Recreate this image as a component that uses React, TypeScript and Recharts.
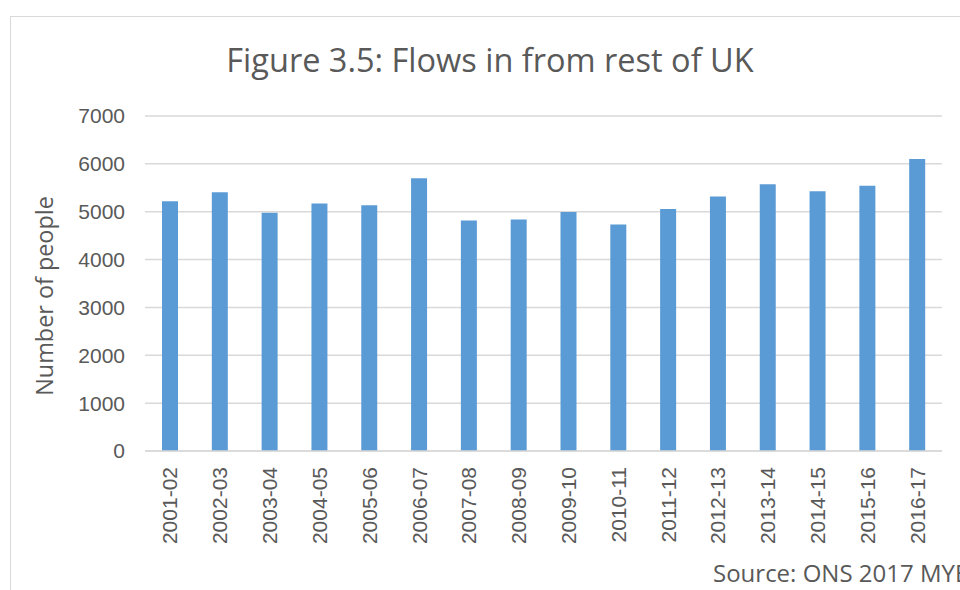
import React from "react";
import { BarChart, Bar, XAxis, YAxis, CartesianGrid } from "recharts";

const years = [
  "2001-02", "2002-03", "2003-04", "2004-05", "2005-06", "2006-07", "2007-08", "2008-09",
  "2009-10", "2010-11", "2011-12", "2012-13", "2013-14", "2014-15", "2015-16", "2016-17",
];
const flows = [5220, 5405, 4980, 5170, 5135, 5700, 4815, 4835, 4995, 4735, 5055, 5320, 5575, 5430, 5545, 6100];
const yTicks = [0, 1000, 2000, 3000, 4000, 5000, 6000, 7000];

const data = years.map((y, i) => ({ year: y, value: flows[i] }));

const textColor = "#595959";

const XTick = (props: any) => {
  const { x, y, payload } = props;
  return (
    <text
      x={x}
      y={y}
      transform={`rotate(-90, ${x}, ${y})`}
      textAnchor="end"
      dy="0.36em"
      fill={textColor}
      fontSize={21}
      fontFamily="'Liberation Sans', Arial, sans-serif"
    >
      {payload.value}
    </text>
  );
};

export default function App() {
  return (
    <div
      style={{
        position: "absolute",
        left: 0,
        top: 0,
        width: 960,
        height: 590,
        overflow: "hidden",
        background: "#fff",
      }}
    >
      <div
        style={{
          position: "absolute",
          left: 10,
          top: 16,
          width: 1000,
          height: 1000,
          border: "1px solid #d9d9d9",
        }}
      />
      <div style={{ position: "absolute", left: 0, top: 0 }}>
        <BarChart
          width={960}
          height={590}
          data={data}
          margin={{ top: 116, right: 18, bottom: 0, left: 0 }}
        >
          <CartesianGrid vertical={false} stroke="#d9d9d9" strokeWidth={1.5} />
          <XAxis
            dataKey="year"
            height={139}
            axisLine={{ stroke: "#d9d9d9", strokeWidth: 1.5 }}
            tickLine={false}
            tickSize={0}
            tickMargin={16}
            interval={0}
            tick={<XTick />}
          />
          <YAxis
            width={145}
            domain={[0, 7000]}
            ticks={yTicks}
            axisLine={false}
            tickLine={false}
            tickSize={0}
            tickMargin={20}
            tick={{ fill: textColor, fontSize: 21, fontFamily: "'Liberation Sans', Arial, sans-serif" }}
          />
          <Bar dataKey="value" fill="#5B9BD5" barSize={16} isAnimationActive={false} />
          <text
            x={490}
            y={72}
            textAnchor="middle"
            fill={textColor}
            fontSize={32.5}
            fontFamily="'Open Sans', sans-serif"
          >
            Figure 3.5: Flows in from rest of UK
          </text>
          <text
            x={45}
            y={296}
            transform="rotate(-90, 45, 296)"
            textAnchor="middle"
            dy="0.35em"
            fill={textColor}
            fontSize={23.4}
            fontFamily="'Open Sans', sans-serif"
          >
            Number of people
          </text>
          <text
            x={713}
            y={582}
            fill={textColor}
            fontSize={24}
            fontFamily="'Open Sans', sans-serif"
          >
            Source: ONS 2017 MYE
          </text>
        </BarChart>
      </div>
    </div>
  );
}
